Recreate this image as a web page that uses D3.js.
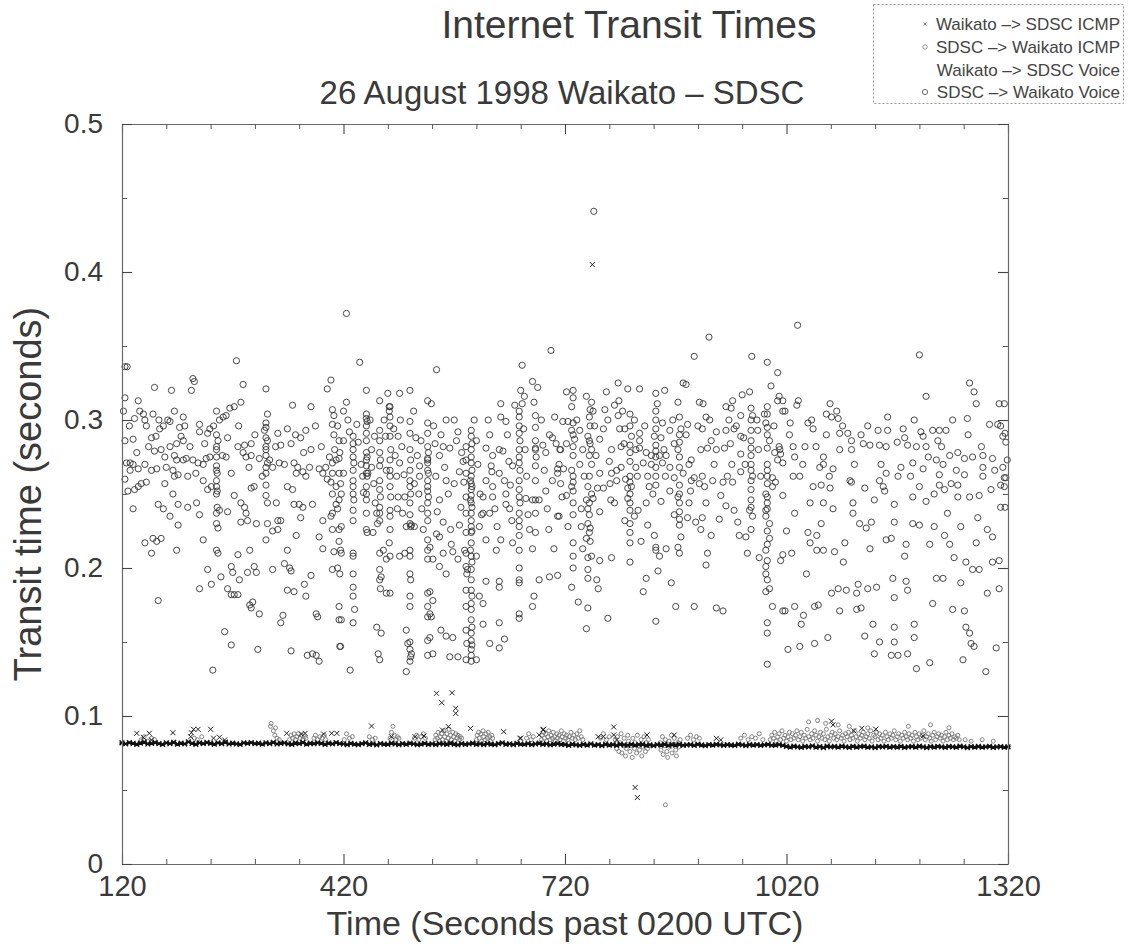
<!DOCTYPE html>
<html><head><meta charset="utf-8">
<script src="https://cdn.jsdelivr.net/npm/d3@7"></script>
<style>body{margin:0;background:#fff}</style>
</head><body><svg id="c" width="1131" height="950"></svg>
<script>
const titleText = "Internet Transit Times";
const subtitleText = "26 August 1998 Waikato – SDSC";
const xLabelText = "Time (Seconds past 0200 UTC)";
const yLabelText = "Transit time (seconds)";
const xTicks = [120, 420, 720, 1020, 1320];
const yTicks = [0, 0.1, 0.2, 0.3, 0.4, 0.5];
const seriesNames = ["Waikato –> SDSC ICMP", "SDSC –> Waikato ICMP", "Waikato –> SDSC Voice", "SDSC –> Waikato Voice"];

// Waikato -> SDSC ICMP: one probe every 5 s from t = 120 (ms)
const icmpOutStart = 120, icmpOutStep = 5;
const icmpOutMs = [
81.8,81.2,82.0,81.5,80.9,81.7,82.3,81.1,81.6,82.0,81.3,80.8,81.9,81.4,82.2,81.0,81.7,81.2,82.5,81.5,80.9,81.8,81.3,82.1,81.6,81.0,81.9,81.4,82.3,81.1,81.7,81.2,80.8,81.9,81.5,82.0,81.3,81.7,81.0,81.8,81.4,82.2,81.1,81.6,81.9,81.2,80.9,81.7,81.4,82.1,81.0,81.6,81.3,81.9,81.5,80.8,81.7,81.2,82.0,81.4,
81.1,80.7,81.5,81.0,80.6,81.3,81.8,80.9,81.2,80.5,81.4,81.0,80.8,81.6,81.1,80.6,81.3,80.9,81.7,81.2,80.7,81.0,81.5,80.8,81.2,80.6,81.4,81.1,80.9,81.6,81.0,80.5,81.3,80.8,81.2,81.7,80.9,81.1,80.6,81.4,81.0,80.7,81.3,81.8,80.9,81.2,80.6,81.5,81.0,80.8,81.3,80.7,81.1,81.6,80.9,81.2,80.5,81.0,81.4,80.8,
80.7,80.2,81.0,80.5,80.1,80.8,80.4,81.1,80.3,80.6,80.0,80.9,80.4,80.7,80.2,81.0,80.5,80.1,80.8,80.3,80.6,80.9,80.2,80.5,80.0,80.7,80.4,80.9,80.2,80.6,80.3,80.8,80.1,80.5,80.7,80.2,80.9,80.4,80.0,80.6,80.3,80.8,80.5,80.1,80.7,80.4,80.2,80.9,80.5,80.0,80.6,80.3,80.7,80.2,80.5,80.8,80.1,80.4,80.6,80.2,
79.5,79.0,79.7,79.2,78.8,79.4,79.1,79.8,78.9,79.3,78.7,79.6,79.1,79.4,78.9,79.7,79.2,78.8,79.5,79.0,79.3,79.6,78.9,79.2,78.7,79.4,79.1,79.5,78.9,79.3,79.0,79.5,78.8,79.2,79.4,78.9,79.6,79.1,78.7,79.3,79.0,79.5,79.2,78.8,79.4,79.1,78.9,79.6,79.2,78.7,79.3,79.0,79.4,78.9,79.2,79.5,78.8,79.1,79.3,78.9,79.2
];

// SDSC -> Waikato ICMP: [time s, transit ms]
const icmpInMs = [
[146,84],[150,86],[155,83],[160,85],[164,84],[218,85],[222,84],[228,86],
[321,93],[322,95],[325,90],[327,87],[330,85],[333,84],[328,92],
[347,84],[349,87],[351,85],[353,88],[355,84],[357,86],[359,88],[361,85],[363,87],[365,84],[367,86],[369,85],
[380,85],[382,87],[385,84],[388,86],[391,85],[394,87],[396,84],[421,84],[424,88],[428,85],[432,86],[455,86],[459,84],[463,85],
[483,85],[485,89],[487,93],[489,87],[491,84],[493,86],[495,85],[516,85],[519,87],[522,84],[525,86],[528,88],[531,85],
[544,84],[545,87],[547,85],[548,89],[550,83],[551,86],[553,88],[554,84],[556,90],[557,86],[559,83],[560,88],[562,85],[563,91],[565,87],[566,84],[568,89],[569,86],[571,83],[572,88],[574,85],[575,87],[577,84],[578,86],[580,85],
[600,84],[601,87],[603,89],[604,85],[606,88],[607,83],[609,90],[610,86],[612,84],[613,88],[615,85],[616,89],[618,86],[619,83],[621,87],[622,85],
[668,85],[671,88],[674,84],[677,86],
[688,84],[689,87],[691,89],[692,85],[694,88],[695,83],[697,86],[698,90],[700,84],[701,87],[703,85],[704,89],[706,86],[707,83],[709,88],[710,85],[712,87],[713,84],[715,90],[716,86],[718,83],[719,88],[721,85],[722,87],[724,84],[726,86],[728,89],[730,85],[732,87],[734,84],[736,88],[738,85],[740,90],[742,86],[744,84],
[768,85],[772,88],[776,84],[780,86],
[788,84],[790,78],[791,86],[793,76],[794,82],[796,88],[797,75],[799,80],[800,85],[802,73],[803,78],[805,87],[806,83],[808,76],[809,80],[811,72],[812,85],[814,78],[815,82],[817,75],[818,87],[820,80],[821,77],[823,84],[824,73],[826,79],[827,86],[829,76],[830,82],[832,78],[833,84],[835,80],
[849,82],[850,77],[852,86],[853,74],[855,80],[856,84],[858,76],[859,72],[861,83],[862,79],[864,87],[865,75],[867,81],[868,85],[870,77],[871,73],[873,82],[874,79],[876,84],[856,40],
[886,85],[890,87],[894,84],[898,86],[902,85],[958,85],[963,87],[968,84],[973,86],[978,85],[983,88],[988,84],
[998,84],[1000,87],[1002,85],[1004,89],[1006,83],[1008,86],[1010,88],[1012,84],[1014,90],[1016,85],[1018,87],[1020,83],[1022,86],[1024,89],[1026,84],[1028,88],[1030,85],[1032,87],[1034,90],[1036,84],[1038,86],[1040,89],[1042,83],[1044,87],[1046,85],[1048,91],[1050,86],[1052,84],[1054,88],[1056,85],[1058,90],[1060,87],[1062,83],[1064,86],[1066,89],[1068,85],[1070,88],[1072,84],[1074,91],[1076,86],[1078,83],[1080,87],[1082,89],[1084,85],[1086,88],[1088,84],[1090,86],[1092,90],[1094,85],[1096,87],[1098,83],[1100,88],[1102,86],[1104,89],[1106,84],[1108,87],[1110,85],[1112,90],[1114,86],[1116,83],[1118,88],[1120,85],[1122,87],[1124,89],[1126,84],[1128,86],[1130,88],[1132,85],[1134,90],[1136,83],[1138,87],[1140,86],[1142,89],[1144,84],[1146,88],[1148,85],[1150,87],[1152,83],[1154,89],[1156,86],[1158,84],[1160,88],[1162,85],[1164,87],[1166,90],[1168,84],[1170,86],[1172,88],[1174,83],[1176,87],[1178,85],[1180,89],[1182,86],[1184,84],[1186,88],[1188,85],[1190,87],[1192,83],[1194,89],[1196,86],[1198,84],[1200,88],[1202,85],[1204,87],[1206,90],[1208,84],[1210,86],[1212,88],[1214,85],[1216,83],[1218,87],[1220,89],[1222,84],[1224,86],[1226,88],[1228,85],[1230,87],[1232,83],[1234,86],[1236,89],[1238,84],[1240,87],[1242,85],[1244,88],[1246,84],[1248,86],[1250,85],[1252,87],[1254,84],
[1050,96],[1062,97],[1073,95],[1090,94],[1105,93],[1130,92],[1185,93],[1215,94],[1240,92],[1262,84],[1270,83],[1285,84],[1300,83]
];

// Waikato -> SDSC Voice: [time s, transit ms]
const voiceOutMs = [
[140,88.3],[149,85.6],[157,88.3],[160,83.8],[189,88.7],[214,88.7],[217,91],[223,91],[240,91],[213,86],[244,85],[252,85.6],[259,83.8],
[343,88.3],[363,87.8],[368,88.3],[393,87.8],[404,88.3],[411,88.3],[458,93.2],[485,86],[517,86],[529,86.5],[554,90.5],[562,92.8],
[546,115.3],[553,109],[567,115.7],[572,105.2],[572,101.8],[592,91.6],[637,89.4],[659,84.9],[691,91],[757,405],[660,85],[690,90.6],[685,87.2],
[765,86],[772,86],[786,92.6],[786,87.2],[790,83.8],[831,87.2],[815,51.7],[818,44.9],[868,87.2],[925,84.9],[931,83.8],
[1081,96.5],[1083,94],[1111,90],[1122,91.7],[1141,91.1],[1205,86.5]
];

// SDSC -> Waikato Voice: [time s, transit ms]
const voiceInMs = [
[127,336],[424,372],[759,441],[915,356],[1035,364],
[124,336],[275,340],[216,328],[218,326],[164,322],[187,320],[214,320],[284,324],[315,321],[403,327],[398,321],[124,315],[142,313],[272,309],[281,312],[248,306],[266,308],[351,310],[376,309],[122,306],[144,306],[149,304],[162,304],[191,306],[203,302],[198,295],[317,304],[405,307],[407,303],[137,301],[151,300],[153,296],[171,294],[176,296],[182,300],[185,299],[225,297],[239,294],[252,300],[257,302],[261,303],[315,298],[315,295],[313,293],[331,291],[344,294],[369,293],[405,297],[412,296],[407,290],[414,286],[135,287],[124,286],[160,288],[166,289],[200,289],[203,286],[194,284],[185,282],[173,280],[225,292],[236,291],[248,290],[250,286],[263,288],[277,282],[286,283],[295,284],[317,286],[335,283],[349,284],[362,288],[376,280],[387,267],[396,268],[401,275],[410,273],[414,274],[405,271],[405,264],[414,264],[416,257],[403,258],[410,255],[405,250],[414,246],[410,243],[405,237],[412,240],[403,235],[405,226],[414,226],[414,218],[416,212],[407,211],[412,200],[405,199],[414,174],[414,165],[416,147],
[248,282],[248,280],[248,275],[248,269],[248,266],[249,264],[248,259],[248,255],[249,252],[248,250],[249,241],[248,237],[248,230],[250,227],[248,212],[250,210],
[315,288],[315,282],[315,280],[315,276],[317,271],[315,268],[315,264],[315,256],[315,249],[317,244],[315,219],
[164,279],[178,275],[191,276],[194,273],[203,273],[207,274],[216,273],[223,271],[230,270],[234,274],[239,275],[261,275],[284,278],[288,275],[295,276],[306,274],[320,273],[324,268],[333,271],[353,271],[358,268],[365,265],[374,268],[392,264],[369,262],[356,264],[126,271],[131,271],[135,270],[131,266],[142,267],[151,270],[160,266],[167,267],[189,266],[196,263],[209,262],[191,262],[178,257],[153,258],[146,257],[142,255],[137,253],[128,252],[124,260],[189,250],[230,259],[236,253],[241,255],[272,249],[281,244],[286,241],[288,237],[295,254],[299,255],[329,244],[344,255],[351,253],[353,243],[360,243],[365,241],[378,243],[135,240],[169,243],[176,240],[196,243],[209,241],[221,244],[252,239],[263,238],[185,235],[225,236],[281,231],[290,232],[302,230],[317,230],[331,232],[335,232],[362,234],[392,232],[196,229],[324,225],[331,226],[356,222],[387,221],[162,220],[167,218],[173,220],[151,217],[160,210],[194,212],[230,219],[277,209],[293,212],[344,212],[392,213],[236,199],[254,194],[268,201],[270,197],[279,192],[290,197],[299,201],[302,197],[324,199],[340,203],[347,200],[349,198],[376,195],[225,186],[241,189],[263,186],[268,182],[272,182],[277,182],[169,178],[293,175],[297,177],[295,173],[306,169],[344,185],[353,184],[367,189],[369,181],[338,168],[335,163],[383,169],[385,167],[259,157],[268,148],[304,145],[349,144],[378,142],[383,141],[371,141],[387,137],[243,131],
[442,339],[546,334],[662,337],[701,347],[451,320],[480,318],[496,318],[510,320],[534,313],[539,311],[424,312],[420,306],[469,313],[482,309],[482,306],[559,300],[633,311],[658,306],[660,320],[676,326],[683,322],[665,316],[678,312],[662,311],[633,302],[640,299],[680,303],[680,295],[717,299],
[451,304],[451,301],[452,299],[451,296],[451,291],[451,286],[451,278],[452,275],[451,273],[451,269],[451,264],[452,262],[451,255],[451,250],[451,246],[451,237],[451,226],[452,224],
[433,289],[433,284],[433,280],[433,275],[434,271],[433,266],[433,259],[433,255],[433,250],[434,246],[433,239],[433,232],[433,210],[433,196],[433,187],[433,181],[433,163],
[469,293],[469,286],[469,278],[470,273],[469,269],[469,259],[469,253],[470,248],[469,241],[469,237],[469,232],[469,210],[469,199],[469,192],[470,186],
[483,309],[483,302],[483,296],[483,289],[484,280],[483,273],[483,266],[483,262],[483,255],[484,248],[483,239],[483,235],[483,226],[483,208],[483,183],
[510,299],[510,291],[510,280],[511,273],[510,266],[510,259],[510,255],[511,250],[510,244],[510,236],[510,230],[511,228],[510,212],[510,208],[510,196],[511,192],[510,181],[510,174],[510,150],[510,145],[511,140],[510,137],
[534,298],[534,291],[534,282],[535,278],[534,274],[534,271],[534,266],[535,264],[534,259],[534,255],[534,252],[535,248],[534,244],[534,237],[534,232],[534,219],[534,212],[534,206],[534,183],[534,174],[534,167],[534,151],[534,141],
[593,293],[593,289],[594,284],[593,280],[593,275],[593,271],[594,266],[593,262],[592,259],[593,257],[594,255],[593,253],[593,249],[592,246],[593,244],[594,241],[593,237],[593,232],[593,228],[594,225],[593,224],[593,217],[592,212],[593,208],[594,204],[593,199],[593,192],[593,185],[594,181],[593,176],[593,172],[593,165],[594,160],[593,156],[593,151],[594,148],[593,145],[593,141],[593,137],
[586,282],[586,273],[586,264],[586,248],[586,237],[586,224],[586,210],[586,201],[587,196],[586,185],[586,174],[586,158],[587,149],[586,138],
[658,302],[658,296],[658,291],[659,286],[658,280],[658,275],[658,271],[659,266],[658,259],[658,253],[658,248],[659,244],[658,237],[658,232],[658,228],[658,222],[658,212],[658,200],[658,190],[658,169],
[680,286],[680,280],[681,275],[680,269],[680,259],[680,246],[680,237],[680,224],
[420,286],[415,278],[420,264],[417,250],[417,228],[417,210],[415,196],[417,165],[415,147],[433,208],[435,172],[494,289],[496,271],[494,248],[500,237],[496,208],[503,210],[512,229],[516,228],[523,269],[525,286],[550,276],[555,282],[564,281],[573,286],[559,259],[570,257],[550,246],[555,231],[546,223],[550,221],[537,214],[541,206],[550,201],[559,196],[555,210],[566,216],[568,211],[575,206],[559,154],[568,153],[552,158],[564,140],[575,140],[600,138],[609,162],[618,149],[631,146],[631,163],[638,152],[631,191],[631,187],[658,192],[658,166],[678,181],[676,174],[685,192],[699,194],[710,195],[705,213],[676,213],[649,217],[633,219],[627,212],[613,219],[604,228],[609,237],[618,237],[622,248],[609,248],[613,259],[622,255],[631,264],[638,259],[649,269],[640,250],[640,243],[645,240],[667,247],[676,246],[685,246],[703,259],[710,264],[714,257],[712,235],[710,267],[699,290],[703,288],[714,280],[680,281],[694,278],[613,281],[622,276],[631,280],[636,279],[620,269],[577,265],[582,272],[579,241],[577,229],[584,212],[588,199],[613,191],[600,208],[604,181],[609,176],[460,224],[465,237],[453,264],[458,280],[462,289],[482,217],[474,212],[478,206],[471,194],[478,183],[465,160],[471,156],[467,142],[469,138],[429,131],[505,130],[505,158],[507,149],[512,142],[537,184],[541,178],[539,167],[537,153],[541,142],[537,169],[710,235],[523,262],[534,273],[516,257],[503,248],
[426,300],[428,292],[438,297],[440,285],[444,270],[446,262],[447,251],[456,300],[458,268],[461,257],[463,244],[466,230],[475,300],[477,289],[478,266],[488,294],[490,276],[492,262],[493,240],[497,300],[499,282],[502,263],[505,228],[515,306],[518,288],[520,276],[522,250],[526,240],[528,226],[542,296],[544,284],[545,262],[547,238],[552,290],[557,268],[562,250],[565,226],[570,300],[575,292],[580,278],[583,258],[597,300],[600,286],[602,270],[605,250],[607,236],[616,300],[618,290],[621,265],[625,240],[628,228],[642,290],[644,272],[646,256],[648,232],[652,310],[664,294],[666,280],[668,262],[670,236],[672,226],[688,300],[690,283],[692,266],[694,252],[696,240],[698,226],[706,302],[708,284],[712,270],[716,248],
[895,343],[973,343],[994,339],[1008,332],[999,323],[1010,316],[1015,306],[792,325],[805,321],[821,321],[880,325],[884,324],[843,318],[855,320],[845,311],[873,312],[902,312],[907,311],[776,319],[774,307],[787,310],[793,313],[722,319],[731,320],[731,315],[729,309],[749,316],[756,312],[754,307],[758,306],[808,304],[792,303],[911,302],[947,313],[960,317],[970,319],[938,309],[945,308],[958,303],[972,308],[974,303],[994,309],[990,304],[1008,313],[724,299],[729,293],[740,293],[754,296],[751,289],[772,294],[794,294],[801,294],[808,296],[810,289],[821,286],[821,291],[843,300],[843,294],[841,289],[850,288],[862,293],[875,302],[877,294],[886,297],[906,294],[925,292],[938,293],[949,294],[958,289],[972,293],[981,293],[992,298],[997,286],[1010,282],[1012,277],[713,280],[722,284],[733,287],[731,282],[754,284],[756,280],[767,287],[783,280],[796,282],[821,281],[837,276],[848,276],[857,276],[873,280],[875,275],[891,273],[913,281],[925,280],[936,281],[958,277],[972,281],[994,281],[1008,273],[718,267],[729,266],[740,270],[756,270],[767,264],[783,264],[790,266],[796,268],[816,268],[826,271],[837,270],[843,262],[852,271],[862,268],[868,261],[880,264],[891,259],[895,261],[902,257],[909,255],[920,259],[934,258],[940,262],[947,258],[958,265],[972,266],[974,262],[994,262],[1001,261],[729,255],[722,249],[731,244],[751,255],[756,250],[749,246],[758,247],[772,254],[781,257],[790,259],[805,254],[810,255],[834,255],[839,250],[850,245],[862,252],[873,248],[875,244],[888,244],[911,244],[931,249],[938,242],[949,239],[970,239],[974,235],[992,250],[994,248],[1001,255],[742,240],[751,240],[767,238],[787,244],[805,247],[808,239],[819,239],[830,244],[801,232],[814,235],[832,229],[868,236],[875,229],[886,234],[897,231],[906,234],[904,226],[918,222],[929,233],[954,231],[956,222],[965,221],[972,226],[992,239],[992,235],[997,230],[994,225],[997,220],[724,228],[742,228],[751,230],[754,227],[749,220],[754,218],[731,217],[744,213],[808,224],[808,217],[823,218],[841,222],[843,214],[843,212],[848,208],[857,213],[873,214],[875,210],[877,221],[808,204],[731,208],[731,200],[751,207],[756,208],[751,199],[767,205],[783,207],[983,207],[967,210],[992,212],[992,201],[992,196],[994,192],[997,186],[992,184],[1012,205],[913,210],[911,202],[751,193],[763,192],[765,186],[729,187],[830,193],[846,198],[864,190],[826,184],[738,177],[751,173],[778,166],[749,159],[843,164],[870,174],[895,174],[925,173],[934,171],[1001,174],[994,163],[994,156],[994,135],[1015,171],
[731,298],[731,290],[731,276],[731,262],[731,258],[731,252],[731,236],[753,302],[753,286],[753,276],[753,262],[753,244],[753,236],[753,224],[808,283],[808,278],[808,272],[808,262],[808,258],[808,250],[808,244],[808,230],[843,306],[843,283],[843,279],[843,275],[843,268],[843,256],[875,290],[875,285],[875,268],[875,256],[875,250],[875,238],[875,233],[972,300],[972,286],[972,276],[972,270],[972,259],[972,253],[972,246],[972,241],[994,304],[994,295],[994,290],[994,270],[994,266],[994,257],[994,244],[994,240],[994,216],[994,205],
[736,300],[744,280],[746,262],[760,296],[762,276],[764,254],[778,300],[780,272],[782,246],[798,306],[800,284],[802,260],[814,300],[816,280],[818,262],[828,296],[830,278],[832,262],[852,298],[854,280],[856,262],[866,300],[868,284],[884,290],[888,270],[890,252],[900,296],[904,280],[906,262],[916,300],[918,286],[922,270],[942,300],[944,284],[946,270],[952,296],[962,288],[964,270],[980,300],[982,280],[985,262],[1003,296],[1004,278],[1005,258],
[130,296],[140,278],[156,282],[170,300],[180,268],[205,296],[212,282],[220,264],[232,284],[244,296],[256,276],[268,264],[278,296],[292,268],[300,290],[310,262],[328,282],[340,270],[355,290],[366,278],[382,296],[390,282],[398,260],[408,280],
[1200,344],[1268,325],[1274,319],[1209,316],[1277,311],[1308,311],[1015,313],[1036,313],[1034,310],[1018,306],[1079,311],[1074,304],[1088,306],[1090,301],[1081,302],[1157,302],[1193,300],[1245,300],[1265,301],[1025,298],[1049,298],[1056,294],[1054,300],[1295,297],[1306,297],[1074,290],[1092,291],[1103,291],[1108,286],[1121,290],[1133,283],[1144,293],[1157,293],[1178,294],[1202,292],[1205,289],[1218,293],[1227,293],[1236,293],[1225,286],[1313,289],[1029,282],[1045,282],[1031,275],[1070,275],[1092,280],[1108,280],[1124,284],[1146,283],[1155,282],[1180,288],[1184,283],[1196,282],[1209,282],[1241,276],[1252,278],[1261,274],[1272,275],[1286,276],[1299,274],[1313,268],[1011,280],[1015,271],[1070,270],[1065,268],[1083,267],[1106,259],[1146,259],[1155,264],[1175,268],[1191,271],[1205,267],[1223,273],[1232,270],[1286,268],[1029,262],[1038,262],[1056,255],[1067,256],[1079,254],[1108,258],[1126,254],[1151,255],[1171,262],[1200,255],[1227,263],[1227,256],[1243,257],[1252,256],[1261,263],[1286,262],[1310,256],[1315,261],[1015,249],[1052,244],[1070,244],[1083,240],[1110,244],[1139,246],[1153,252],[1166,243],[1191,248],[1209,245],[1220,250],[1234,253],[1252,248],[1268,248],[1281,249],[1297,253],[1310,241],[1031,237],[1110,237],[1119,230],[1128,227],[1135,231],[1166,231],[1191,230],[1200,229],[1220,228],[1238,237],[1256,228],[1279,234],[1292,226],[1299,221],[1020,225],[1049,224],[1061,222],[1067,230],[1052,217],[1061,212],[1070,212],[1099,217],[1133,213],[1155,219],[1162,220],[1182,216],[1214,216],[1234,222],[1241,216],[1277,217],[1015,209],[1027,210],[1085,211],[1097,204],[1180,208],[1247,207],[1263,204],[1272,199],[1281,199],[1299,204],[1308,205],[1047,196],[1081,183],[1090,186],[1101,185],[1117,189],[1115,183],[1130,186],[1142,187],[1164,193],[1182,191],[1184,185],[1166,180],[1223,193],[1232,193],[1256,190],[1292,183],[1308,186],[1018,171],[1031,174],[1043,168],[1058,174],[1063,175],[1092,171],[1115,172],[1121,173],[1218,176],[1245,172],[1261,171],[1040,162],[1137,162],[1166,160],[1193,162],[1263,160],[1268,156],[1022,145],[1038,147],[1058,149],[1076,153],[1126,154],[1146,150],[1166,150],[1193,153],[1270,149],[1274,147],[1304,146],[1139,142],[1162,141],[1171,141],[1184,142],[1259,138],[1196,132],[1214,136],[1290,130],
[1315,311],[1310,296],[1316,291],[1317,285],[1319,273],[1317,261],[1315,255],[1316,241],
[1024,290],[1042,270],[1060,282],[1078,262],[1096,296],[1112,270],[1130,296],[1148,270],[1170,285],[1188,262],[1212,275],[1230,282],[1250,266],[1266,290],[1284,282],[1302,266]
];

const FONT = "'Liberation Sans', Arial, Helvetica, sans-serif";
const TXT = "#3a3a3a";
const svg = d3.select("#c");
const x = d3.scaleLinear().domain([120, 1320]).range([122, 1008]);
const y = d3.scaleLinear().domain([0, 0.5]).range([864, 124]);
const sec = ms => ms / 1000;

const xMinor = d3.range(120, 1321, 60).filter(v => !xTicks.includes(v));
const yMinor = [0.05, 0.15, 0.25, 0.35, 0.45];
const fmtY = d => d === 0 ? "0" : d3.format(".1f")(d);

function styleAxis(g, labelled, size) {
  g.select(".domain").attr("stroke", "#6a6a6a").attr("stroke-width", 1.2);
  g.selectAll(".tick line").attr("stroke", "#444").attr("stroke-width", 1.1);
  g.attr("font-family", FONT).attr("font-size", size || 28);
  g.selectAll(".tick text").attr("fill", TXT);
  if (!labelled) g.selectAll(".tick text").remove();
}
function minor(g) { g.select(".domain").remove(); g.selectAll(".tick line").attr("stroke", "#555"); g.selectAll(".tick text").remove(); }

// data layers
const plot = svg.append("g");
plot.append("g").selectAll("circle").data(icmpInMs).join("circle")
  .attr("cx", d => x(d[0])).attr("cy", d => y(sec(d[1]))).attr("r", 2)
  .attr("fill", "none").attr("stroke", "#777").attr("stroke-width", 0.9);
plot.append("g").selectAll("path").data(icmpOutMs).join("path")
  .attr("transform", (d, i) => `translate(${x(icmpOutStart + i * icmpOutStep)},${y(sec(d))})`)
  .attr("d", "M-2.4,-2.4L2.4,2.4M-2.4,2.4L2.4,-2.4M-2.6,0L2.6,0").attr("stroke", "#111").attr("stroke-width", 1.4).attr("fill", "none");
plot.append("g").selectAll("path").data(voiceOutMs).join("path")
  .attr("transform", d => `translate(${x(d[0])},${y(sec(d[1]))})`)
  .attr("d", "M-2.5,-2.5L2.5,2.5M-2.5,2.5L2.5,-2.5").attr("stroke", "#222").attr("stroke-width", 1).attr("fill", "none");
plot.append("g").selectAll("circle").data(voiceInMs).join("circle")
  .attr("cx", d => x(d[0])).attr("cy", d => y(sec(d[1]))).attr("r", 3.1)
  .attr("fill", "none").attr("stroke", "#333").attr("stroke-width", 0.9);

// axes
svg.append("g").attr("transform", "translate(0,864)")
  .call(d3.axisBottom(x).tickValues(xTicks).tickSize(-10).tickSizeOuter(0).tickPadding(11).tickFormat(d3.format("d")))
  .call(g => styleAxis(g, true, 29));
svg.append("g").attr("transform", "translate(0,864)").call(d3.axisBottom(x).tickValues(xMinor).tickSize(-5)).call(minor);
svg.append("g").attr("transform", "translate(0,124)")
  .call(d3.axisTop(x).tickValues(xTicks).tickSize(-10).tickSizeOuter(0)).call(g => styleAxis(g, false));
svg.append("g").attr("transform", "translate(0,124)").call(d3.axisTop(x).tickValues(xMinor).tickSize(-5)).call(minor);
svg.append("g").attr("transform", "translate(122,0)")
  .call(d3.axisLeft(y).tickValues(yTicks).tickSize(-10).tickSizeOuter(0).tickPadding(19).tickFormat(fmtY))
  .call(g => styleAxis(g, true, 28));
svg.append("g").attr("transform", "translate(122,0)").call(d3.axisLeft(y).tickValues(yMinor).tickSize(-5)).call(minor);
svg.append("g").attr("transform", "translate(1008,0)")
  .call(d3.axisRight(y).tickValues(yTicks).tickSize(-10).tickSizeOuter(0)).call(g => styleAxis(g, false));
svg.append("g").attr("transform", "translate(1008,0)").call(d3.axisRight(y).tickValues(yMinor).tickSize(-5)).call(minor);

// titles
svg.append("text").attr("x", 629).attr("y", 38).attr("text-anchor", "middle")
  .attr("font-family", FONT).attr("font-size", 39).attr("fill", TXT).text(titleText);
svg.append("text").attr("x", 562).attr("y", 104).attr("text-anchor", "middle")
  .attr("font-family", FONT).attr("font-size", 33).attr("fill", TXT).text(subtitleText);
svg.append("text").attr("x", 565).attr("y", 935).attr("text-anchor", "middle")
  .attr("font-family", FONT).attr("font-size", 34).attr("fill", TXT).text(xLabelText);
svg.append("text").attr("transform", "translate(41,494) rotate(-90)").attr("text-anchor", "middle")
  .attr("font-family", FONT).attr("font-size", 38).attr("fill", TXT).text(yLabelText);

// legend
const lg = svg.append("g");
lg.append("rect").attr("x", 873.5).attr("y", 4.5).attr("width", 250).attr("height", 99)
  .attr("fill", "#fff").attr("stroke", "#999").attr("stroke-dasharray", "2,2");
const rowY = [30, 53, 76, 98];
lg.selectAll("text").data(seriesNames).join("text")
  .attr("x", 1120).attr("y", (d, i) => rowY[i]).attr("text-anchor", "end")
  .attr("font-family", FONT).attr("font-size", 17).attr("fill", "#444").text(d => d);
lg.append("path").attr("transform", `translate(925,${rowY[0] - 6})`).attr("d", "M-1.5,-1.5L1.5,1.5M-1.5,1.5L1.5,-1.5")
  .attr("stroke", "#888").attr("stroke-width", 1);
lg.append("circle").attr("cx", 925).attr("cy", rowY[1] - 6).attr("r", 2.2).attr("fill", "none").attr("stroke", "#999");
lg.append("circle").attr("cx", 925).attr("cy", rowY[3] - 6).attr("r", 2.6).attr("fill", "none").attr("stroke", "#666");
</script></body></html>
